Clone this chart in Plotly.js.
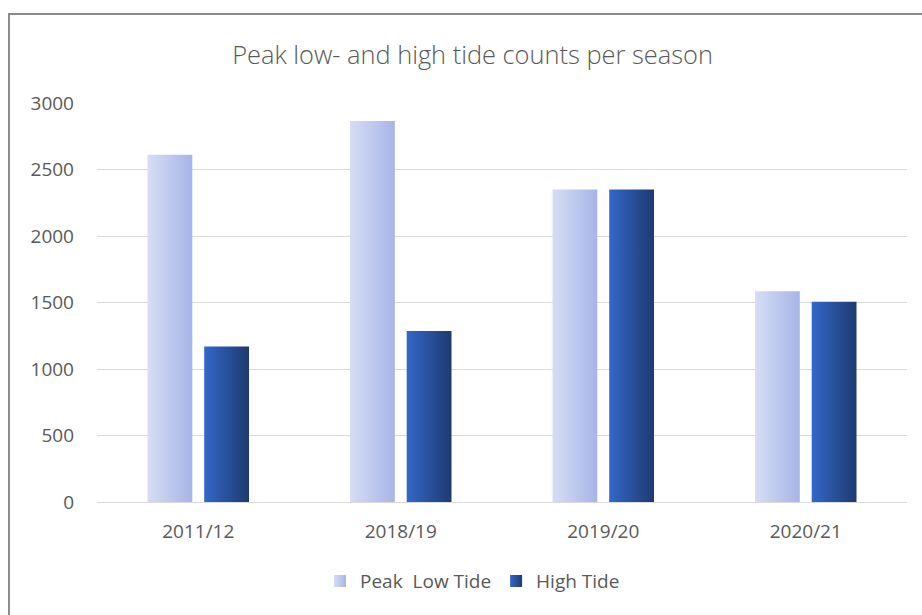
<!DOCTYPE html>
<html>
<head>
<meta charset="utf-8">
<script src="https://cdn.plot.ly/plotly-3.0.1.min.js"></script>
<style>
  html, body { margin: 0; padding: 0; background: #ffffff; overflow: hidden; }
  #chart { width: 922px; height: 615px; }
  #frame { position: absolute; left: 8px; top: 13px; width: 1000px; height: 700px;
           border: 2px solid #8c8c8c; pointer-events: none; box-sizing: border-box; }
</style>
</head>
<body>
<div id="chart"></div>
<div id="frame"></div>
<script>
const seasons = ["2011/12", "2018/19", "2019/20", "2020/21"];
const peakLowTide = [2610, 2865, 2350, 1585];
const highTide = [1170, 1285, 2350, 1505];
const seriesNames = ["Peak  Low Tide", "High Tide"];
const yTicks = [0, 500, 1000, 1500, 2000, 2500, 3000];

const fontFam = "Open Sans, Noto Sans, sans-serif";
const textColor = "#595959";

const traces = [
  { type: "bar", name: seriesNames[0], x: seasons, y: peakLowTide,
    marker: { color: "#bcc8ee" }, hoverinfo: "x+y" },
  { type: "bar", name: seriesNames[1], x: seasons, y: highTide,
    marker: { color: "#2a55a8" }, hoverinfo: "x+y" }
];

const layout = {
  width: 922, height: 615,
  paper_bgcolor: "#ffffff", plot_bgcolor: "#ffffff",
  margin: { l: 97, r: 15, t: 103, b: 113 },
  barmode: "group", bargap: 0.44, bargroupgap: 0.21,
  title: { text: "Peak low- and high tide counts per season",
           font: { family: fontFam, size: 25.4, color: textColor, weight: 300 },
           x: 0.5125, xref: "container", xanchor: "center",
           y: 0.911, yref: "container", yanchor: "middle" },
  xaxis: { type: "category", showgrid: false, showline: true, linecolor: "#d9d9d9", linewidth: 1,
           ticks: "", ticklabelstandoff: 12,
           tickfont: { family: fontFam, size: 19, color: textColor }, fixedrange: true },
  yaxis: { range: [0, 3000], tickvals: yTicks, showgrid: true, gridcolor: "#d9d9d9", gridwidth: 1,
           zeroline: false, showline: false, ticks: "", ticklabelstandoff: 22,
           tickfont: { family: fontFam, size: 19, color: textColor }, fixedrange: true },
  showlegend: true,
  legend: { orientation: "h", x: 0.5125, xref: "container", xanchor: "center",
            y: 0.055, yref: "container", yanchor: "middle",
            font: { family: fontFam, size: 19, color: textColor },
            itemwidth: 30, tracegroupgap: 0 },
  font: { family: fontFam, color: textColor }
};

Plotly.newPlot("chart", traces, layout, { displayModeBar: false, staticPlot: true }).then(function (gd) {
  const svgNS = "http://www.w3.org/2000/svg";
  const svg = gd.querySelector(".main-svg");
  let defs = svg.querySelector("defs");
  if (!defs) { defs = document.createElementNS(svgNS, "defs"); svg.insertBefore(defs, svg.firstChild); }
  function grad(id, c1, c2) {
    const g = document.createElementNS(svgNS, "linearGradient");
    g.setAttribute("id", id);
    g.setAttribute("x1", "0"); g.setAttribute("y1", "0");
    g.setAttribute("x2", "1"); g.setAttribute("y2", "0");
    [[0, c1], [1, c2]].forEach(function (s) {
      const st = document.createElementNS(svgNS, "stop");
      st.setAttribute("offset", s[0]);
      st.setAttribute("stop-color", s[1]);
      g.appendChild(st);
    });
    defs.appendChild(g);
  }
  grad("gLow", "#d6ddf4", "#a6b5e8");
  grad("gHigh", "#3367c9", "#1e3a70");
  const ids = ["gLow", "gHigh"];
  gd.querySelectorAll(".barlayer .trace").forEach(function (t, i) {
    t.querySelectorAll("path").forEach(function (p) { p.style.fill = "url(#" + ids[i] + ")"; });
  });
  gd.querySelectorAll(".legend .traces").forEach(function (t, i) {
    t.querySelectorAll(".legendpoints path").forEach(function (p) { p.style.fill = "url(#" + ids[i] + ")"; p.style.stroke = "none"; });
  });
});
</script>
</body>
</html>
